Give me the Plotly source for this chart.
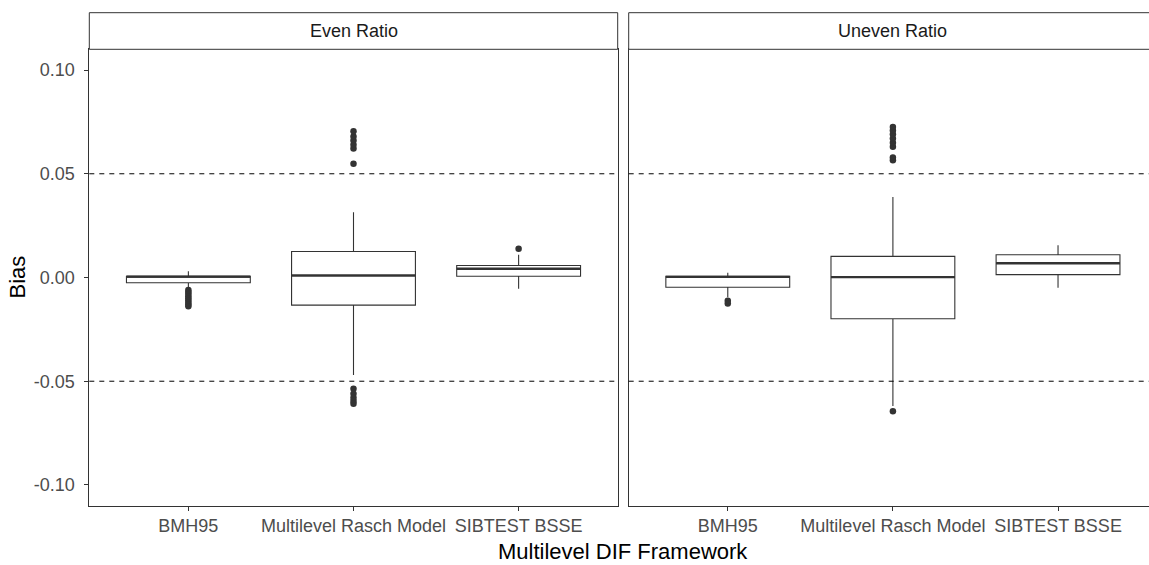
import plotly.graph_objects as go

# Framework categories and facet panels
categories = ["BMH95", "Multilevel Rasch Model", "SIBTEST BSSE"]
panels = ["Even Ratio", "Uneven Ratio"]

# Box summaries, Even Ratio
even_lower = [-0.0048, -0.0470, -0.0054]
even_q1 = [-0.0025, -0.0133, 0.0006]
even_median = [0.0004, 0.0010, 0.0042]
even_q3 = [0.0006, 0.0125, 0.0058]
even_upper = [0.0030, 0.0314, 0.0110]
even_out_bmh = [-0.0060, -0.0070, -0.0080, -0.0090, -0.0100, -0.0110, -0.0120, -0.0130, -0.0138]
even_out_rasch = [0.0548, 0.0622, 0.0640, 0.0660, 0.0680, 0.0705,
                  -0.0536, -0.0560, -0.0580, -0.0595, -0.0608]
even_out_sib = [0.0138]

# Box summaries, Uneven Ratio
uneven_lower = [-0.0095, -0.0620, -0.0050]
uneven_q1 = [-0.0047, -0.0199, 0.0014]
uneven_median = [0.0003, 0.0002, 0.0069]
uneven_q3 = [0.0006, 0.0102, 0.0110]
uneven_upper = [0.0023, 0.0388, 0.0155]
uneven_out_bmh = [-0.0112, -0.0125]
uneven_out_rasch = [0.0565, 0.0578, 0.0630, 0.0650, 0.0670, 0.0690, 0.0708, 0.0725, -0.0645]
uneven_out_sib = []

# Reference band
bias_limits = [-0.05, 0.05]

# Axis ticks
y_ticks = [-0.10, -0.05, 0.00, 0.05, 0.10]
y_tick_labels = ["-0.10", "-0.05", "0.00", "0.05", "0.10"]

W, H = 1149, 565
GREY20 = "#333333"
GREY30 = "#4d4d4d"
FONT = "Liberation Sans, Arial, sans-serif"
TICK_SIZE = 18
TITLE_SIZE = 22
BOX_W = 0.75

# panel geometry in pixels
left_px = [(89.3, 617.7), (628.7, 1149.0)]
panel_top, panel_bot = 49.3, 505.7
strip_top = 12.7
unit_px = (617.7 - 89.3) / 3.2

def px_x(p):
    return p / W

def px_y(p):
    return (H - p) / H

fig = go.Figure()

data = [
    (even_lower, even_q1, even_median, even_q3, even_upper,
     [even_out_bmh, even_out_rasch, even_out_sib]),
    (uneven_lower, uneven_q1, uneven_median, uneven_q3, uneven_upper,
     [uneven_out_bmh, uneven_out_rasch, uneven_out_sib]),
]

xpos = list(range(1, len(categories) + 1))

for k, (lo, q1, med, q3, hi, outs) in enumerate(data):
    xa = "x" if k == 0 else "x2"
    ya = "y" if k == 0 else "y2"
    fig.add_trace(go.Box(
        x=xpos, q1=q1, median=med, q3=q3, lowerfence=lo, upperfence=hi,
        width=BOX_W, fillcolor="white", line=dict(color=GREY20, width=1.1),
        whiskerwidth=0, boxpoints=False, showlegend=False, hoverinfo="skip",
        xaxis=xa, yaxis=ya,
    ))
    # thicker median bar
    mx, my = [], []
    for xi, m in zip(xpos, med):
        mx += [xi - BOX_W / 2, xi + BOX_W / 2, None]
        my += [m, m, None]
    fig.add_trace(go.Scatter(
        x=mx, y=my, mode="lines", line=dict(color=GREY20, width=2.4),
        showlegend=False, hoverinfo="skip", xaxis=xa, yaxis=ya,
    ))
    # outliers
    ox, oy = [], []
    for xi, vals in zip(xpos, outs):
        ox += [xi] * len(vals)
        oy += vals
    fig.add_trace(go.Scatter(
        x=ox, y=oy, mode="markers",
        marker=dict(color=GREY20, size=6.5, line=dict(width=0)),
        showlegend=False, hoverinfo="skip", xaxis=xa, yaxis=ya,
    ))
    # dashed bias limits
    for b in bias_limits:
        fig.add_shape(type="line", xref=f"{xa} domain", yref=ya,
                      x0=0, x1=1, y0=b, y1=b, layer="above",
                      line=dict(color="black", width=1, dash="5px,5px"))

    # facet strip
    x0p, x1p = left_px[k]
    x1_strip = px_x(x1p) if k == 0 else 1.02
    fig.add_shape(type="rect", xref="paper", yref="paper",
                  x0=px_x(x0p), x1=x1_strip, y0=px_y(panel_top), y1=px_y(strip_top),
                  line=dict(color=GREY20, width=1), fillcolor="white")
    full_right = x0p + 3.2 * unit_px
    fig.add_annotation(text=panels[k], xref="paper", yref="paper",
                       x=px_x((x0p + full_right) / 2), y=px_y((strip_top + panel_top) / 2),
                       showarrow=False, xanchor="center", yanchor="middle",
                       font=dict(family=FONT, size=TICK_SIZE, color="#1a1a1a"))

right_range_end = 0.4 + (left_px[1][1] - left_px[1][0]) / unit_px

xcommon = dict(
    tickmode="array", tickvals=xpos, ticktext=categories,
    showgrid=False, zeroline=False, showline=True, mirror=True,
    linecolor=GREY20, linewidth=1, ticks="outside", ticklen=4,
    tickcolor=GREY20, tickwidth=1,
    tickfont=dict(family=FONT, size=TICK_SIZE, color=GREY30),
    automargin=False,
)
ycommon = dict(
    range=[-0.11, 0.11], tickmode="array", tickvals=y_ticks,
    showgrid=False, zeroline=False, showline=True,
    linecolor=GREY20, linewidth=1, automargin=False,
    domain=[px_y(panel_bot), px_y(panel_top)],
)

fig.update_layout(
    width=W, height=H,
    margin=dict(l=0, r=0, t=0, b=0),
    paper_bgcolor="white", plot_bgcolor="white",
    showlegend=False,
    xaxis=dict(xcommon, domain=[px_x(left_px[0][0]), px_x(left_px[0][1])],
               range=[0.4, 3.6], anchor="y"),
    xaxis2=dict(xcommon, domain=[px_x(left_px[1][0]), 1.0],
                range=[0.4, right_range_end], anchor="y2"),
    yaxis=dict(ycommon, anchor="x", mirror=True, ticktext=y_tick_labels,
               ticks="outside", ticklen=4, tickcolor=GREY20, tickwidth=1,
               ticklabelstandoff=6,
               tickfont=dict(family=FONT, size=TICK_SIZE, color=GREY30)),
    yaxis2=dict(ycommon, anchor="x2", matches="y", mirror=False,
                showticklabels=False, ticks=""),
    annotations=list(fig.layout.annotations) + [
        dict(text="Multilevel DIF Framework", xref="paper", yref="paper",
             x=px_x((89.3 + left_px[1][0] + 3.2 * unit_px) / 2), y=px_y(551),
             showarrow=False, xanchor="center", yanchor="middle",
             font=dict(family=FONT, size=TITLE_SIZE, color="black")),
        dict(text="Bias", xref="paper", yref="paper",
             x=px_x(17), y=px_y((panel_top + panel_bot) / 2), textangle=-90,
             showarrow=False, xanchor="center", yanchor="middle",
             font=dict(family=FONT, size=TITLE_SIZE, color="black")),
    ],
)

fig.write_html("out.html")
